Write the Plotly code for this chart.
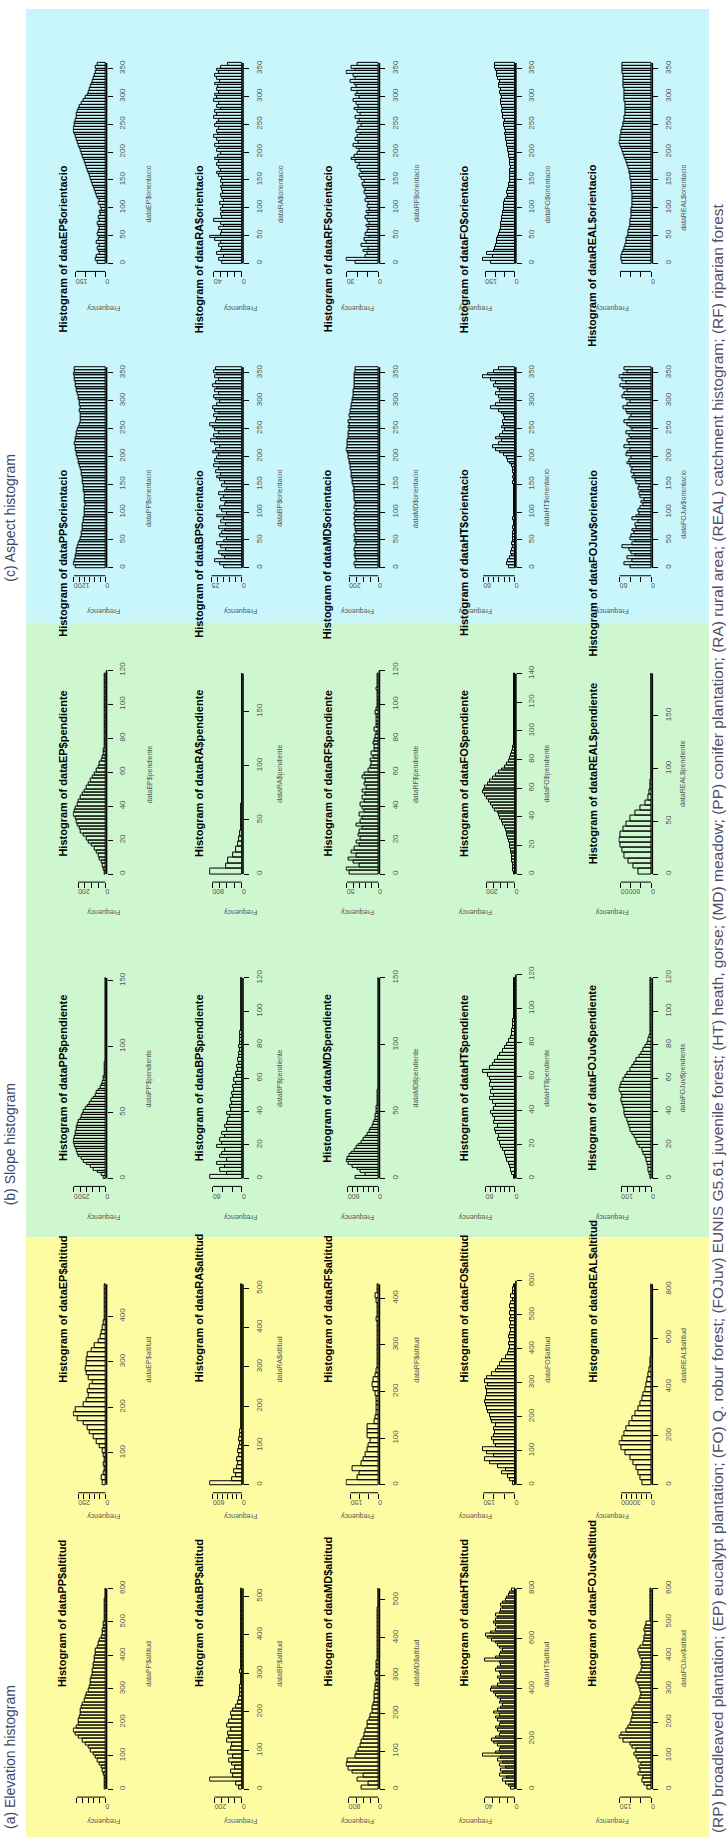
import plotly.graph_objects as go

# ---------------- data: histogram counts ----------------
# (a) Elevation (altitud)
ALT_PP = [5, 10, 15, 20, 40, 80, 120, 180, 250, 320,
          420, 500, 600, 700, 800, 950, 1050, 1100, 1000, 950,
          920, 900, 880, 850, 820, 780, 720, 680, 650, 600,
          560, 530, 500, 470, 450, 430, 420, 400, 380, 360,
          340, 320, 280, 230, 180, 130, 100, 80, 60, 50,
          30, 20, 10, 8, 6, 5, 4, 3, 2, 2]
ALT_EP = [25, 35, 15, 10, 12, 10, 15, 20,
          50, 80, 110, 140, 160, 200, 260, 290, 270, 200,
          170, 150, 160, 140, 120, 150, 170, 180, 175, 170,
          160, 130, 100, 60, 40, 30, 20, 15, 10, 8,
          5, 4, 3, 3, 2, 2]
ALT_RA = [650, 200, 120, 150, 100, 80, 90, 60, 70, 50,
          40, 50, 30, 25, 20, 20, 15, 15, 20, 15,
          15, 10, 10, 10, 15, 20, 15, 10, 10, 15,
          10, 10, 5, 5, 10, 5, 5, 5, 10, 10,
          5, 5, 10, 5, 5, 5, 10, 5, 5, 5, 5]
ALT_BP = [20, 40, 230, 60, 80, 50, 70, 90, 60, 100,
          80, 70, 110, 90, 100, 80, 110, 90, 70, 80,
          60, 40, 30, 20, 15, 10, 10, 8, 5, 5,
          10, 5, 5, 4, 4, 3, 3, 4, 3, 3,
          5, 3, 3, 4, 3, 3, 3, 4, 3, 3, 3, 3]
ALT_MD = [450, 250, 550, 400, 700, 800, 850, 820, 600, 580,
          520, 480, 450, 400, 380, 340, 300, 280, 240, 200,
          160, 150, 120, 110, 100, 90, 70, 60, 50, 40,
          60, 40, 50, 40, 30, 20, 15, 10, 10, 10,
          8, 5, 5, 5, 5, 10, 5, 5, 3, 3, 3, 2, 2]
ALT_RF = [170, 110, 100, 140, 90, 80, 70, 60, 50, 40,
          55, 60, 55, 20, 15, 10, 8, 10, 10, 15,
          25, 30, 25, 15, 10, 5, 5, 5, 5, 3,
          3, 3, 3, 3, 3, 8, 3, 3, 3, 10, 15, 5, 3]
ALT_HT = [5, 8, 12, 15, 10, 20, 15, 18, 12, 20,
          15, 22, 18, 42, 25, 20, 18, 22, 28, 30,
          25, 20, 18, 22, 25, 20, 18, 22, 25, 20,
          28, 22, 18, 15, 20, 18, 22, 25, 28, 32,
          30, 22, 18, 20, 22, 18, 20, 25, 22, 18,
          20, 40, 25, 20, 18, 15, 20, 22, 25, 30,
          35, 38, 32, 25, 22, 25, 28, 25, 22, 25,
          20, 18, 15, 18, 15, 12, 10, 8, 6, 4]
ALT_FO = [10, 20, 30, 60, 40, 80, 120, 140, 100, 130,
          150, 90, 100, 110, 100, 95, 100, 90, 110, 115,
          120, 125, 130, 135, 140, 135, 130, 130, 135, 125,
          140, 130, 110, 90, 80, 70, 60, 40, 30, 25,
          20, 25, 20, 25, 20, 15, 20, 15, 20, 15,
          20, 15, 20, 15, 10, 15, 10, 8, 5]
ALT_REAL = [8500, 10500, 12500, 14500, 17500, 21000, 26000, 30000, 31500, 29000,
            26500, 24500, 21500, 18500, 15500, 13000, 10500, 8500, 7250, 5750,
            4500, 3250, 2250, 1250, 550, 250, 90, 55, 30, 20,
            15, 10, 10, 10, 10, 5, 5, 5, 5, 5, 5]
ALT_FOJUV = [15, 30, 40, 35, 60, 50, 55, 45, 60, 70,
             80, 70, 90, 100, 130, 150, 140, 120, 110, 100,
             95, 90, 85, 90, 80, 70, 55, 50, 45, 50,
             55, 60, 70, 65, 55, 45, 40, 45, 40, 50,
             55, 60, 50, 35, 30, 30, 25, 30, 25, 20,
             5, 3, 3, 2, 2, 2, 2, 1, 1, 1]

# (b) Slope (pendiente)
PEN_PP = [100, 300, 600, 900, 1200, 1500, 1700, 1900, 2100, 2200,
          2300, 2400, 2450, 2500, 2500, 2450, 2400, 2350, 2300, 2250,
          2200, 2100, 2000, 1900, 1800, 1700, 1550, 1400, 1250, 1100,
          950, 800, 650, 500, 380, 280, 200, 140, 90, 60,
          40, 25, 15, 10, 8, 5, 4, 3, 3, 2,
          2, 2, 1, 1, 1, 1, 1, 1, 1, 1,
          1, 1, 1, 1, 1, 1, 1, 1, 1, 1,
          1, 1, 1, 1, 1, 1]
PEN_EP = [5, 10, 20, 30, 40, 50, 60, 80, 100, 120,
          140, 160, 180, 190, 200, 210, 220, 230, 225, 215,
          205, 195, 180, 165, 150, 140, 125, 110, 95, 80,
          65, 50, 40, 30, 20, 15, 10, 6, 4, 2,
          1, 1, 1, 1, 1, 1, 1, 1, 1, 1,
          1, 1, 1, 1, 1, 1, 1, 1, 1]
PEN_RA = [850, 420, 360, 220, 160, 110, 60, 35, 20, 12,
          8, 5, 4, 3, 2, 2, 2, 1, 1, 1,
          1, 1, 1, 1, 1, 1, 1, 1, 1, 1,
          1, 1, 1, 1, 1, 1, 1]
PEN_BP = [65, 30, 45, 35, 50, 30, 45, 40, 35, 50,
          40, 45, 35, 40, 30, 35, 30, 28, 25, 30,
          22, 25, 20, 22, 18, 20, 15, 18, 12, 15,
          10, 12, 8, 10, 6, 8, 5, 6, 4, 5,
          3, 4, 3, 3, 2, 2, 1, 1, 1, 1,
          1, 1, 1, 1, 1, 1, 1, 1, 1, 1]
PEN_MD = [450, 250, 350, 400, 500, 580, 620, 600, 560, 520,
          470, 420, 380, 330, 290, 250, 210, 180, 150, 120,
          100, 80, 60, 50, 40, 30, 25, 15, 10, 8,
          5, 4, 3, 2, 2, 1, 1, 1, 1, 1,
          1, 1, 1, 1, 1, 1, 1, 1, 1, 1,
          1, 1, 1, 1, 1, 1, 1, 1, 1, 1,
          1, 1, 1, 1, 1, 1, 1, 1, 1, 1,
          1, 1, 1, 1, 1]
PEN_RF = [45, 50, 30, 40, 48, 35, 42, 38, 30, 35,
          28, 32, 30, 25, 35, 28, 25, 30, 22, 25,
          28, 22, 25, 20, 25, 18, 22, 20, 25, 22,
          15, 12, 10, 12, 8, 10, 6, 5, 8, 6,
          4, 3, 5, 3, 2, 2, 3, 4, 2, 1,
          1, 1, 1, 1, 2, 1, 1, 1, 1]
PEN_HT = [2, 5, 8, 10, 12, 15, 18, 20, 25, 28,
          30, 35, 32, 38, 40, 35, 42, 40, 45, 48,
          42, 38, 45, 50, 42, 48, 45, 52, 48, 50,
          55, 65, 50, 45, 40, 35, 30, 25, 20, 15,
          12, 8, 6, 5, 4, 3, 3, 2, 2, 2,
          1, 1, 1, 1, 1, 1, 1, 1, 1]
PEN_FO = [5, 8, 10, 12, 15, 18, 20, 22, 25, 30,
          35, 40, 45, 50, 55, 60, 70, 80, 90, 100,
          110, 120, 135, 150, 165, 180, 195, 210, 220, 215,
          205, 190, 170, 150, 130, 110, 90, 70, 55, 40,
          30, 22, 15, 10, 8, 6, 4, 3, 2, 2,
          1, 1, 1, 1, 1, 1, 1, 1, 1, 1,
          1, 1, 1, 1, 1, 1, 1, 1, 1, 1]
PEN_REAL = [25000, 35000, 45000, 52000, 57000, 60000, 62000, 60000, 55000, 48000,
            40000, 30000, 20000, 12000, 6000, 2500, 800, 300, 150, 100,
            80, 60, 50, 40, 30, 20, 20, 10, 10, 10,
            10, 5, 5, 5, 5, 5, 5, 5]
PEN_FOJUV = [3, 5, 8, 10, 12, 15, 20, 25, 30, 38,
             45, 50, 55, 62, 68, 72, 75, 80, 85, 88,
             90, 92, 95, 98, 96, 100, 105, 102, 98, 92,
             85, 78, 70, 62, 55, 48, 40, 32, 25, 18,
             12, 8, 5, 3, 2, 1, 1, 1, 1, 1,
             1, 1, 1, 1, 1, 1, 1, 1, 1, 1]

# (c) Aspect (orientacio), bins of 5 degrees
ORI_PP = [1150, 1200, 1180, 1150, 1120, 1100, 1080, 1050, 1000, 980, 950, 920,
          900, 880, 860, 850, 840, 820, 800, 790, 780, 770, 760, 770,
          780, 790, 800, 810, 820, 830, 850, 870, 880, 900, 920, 950,
          980, 1000, 1030, 1060, 1080, 1100, 1120, 1150, 1160, 1150, 1120, 1100,
          1080, 1050, 1000, 980, 960, 950, 940, 950, 980, 960, 970, 990,
          1000, 1020, 1050, 1080, 1100, 1120, 1150, 1170, 1180, 1200, 1190, 1180]
ORI_EP = [40, 50, 45, 30, 35, 40, 30, 45, 35, 30, 40, 35,
          30, 35, 40, 30, 35, 25, 30, 20, 25, 35, 30, 40,
          45, 50, 55, 60, 65, 70, 75, 80, 85, 90, 95, 100,
          105, 110, 115, 120, 125, 130, 135, 140, 145, 150, 155, 160,
          160, 158, 155, 150, 148, 145, 140, 135, 130, 120, 110, 100,
          90, 85, 80, 75, 70, 65, 60, 55, 50, 45, 50, 40]
ORI_RA = [28, 32, 25, 35, 30, 28, 33, 30, 38, 45, 30, 28,
          32, 25, 30, 40, 28, 30, 26, 29, 27, 31, 25, 28,
          30, 26, 28, 29, 27, 30, 28, 32, 35, 30, 33, 36,
          32, 38, 34, 30, 36, 33, 38, 32, 35, 40, 34, 36,
          33, 38, 35, 32, 40, 35, 38, 30, 36, 33, 39, 35,
          38, 32, 36, 34, 38, 31, 35, 38, 33, 36, 30, 20]
ORI_BP = [15, 18, 22, 14, 16, 19, 13, 17, 20, 15, 12, 18,
          16, 14, 19, 13, 17, 15, 20, 12, 16, 18, 14, 13,
          17, 15, 19, 14, 12, 16, 14, 18, 20, 17, 21, 19,
          23, 18, 22, 20, 19, 24, 21, 18, 22, 25, 20, 23,
          19, 22, 24, 26, 21, 20, 23, 19, 22, 24, 20, 18,
          21, 23, 19, 22, 20, 24, 21, 19, 22, 20, 23, 21]
ORI_MD = [155, 160, 150, 158, 162, 155, 165, 158, 150, 160, 155, 162,
          150, 158, 155, 160, 152, 165, 158, 160, 150, 162, 155, 158,
          160, 165, 162, 168, 165, 170, 175, 178, 180, 182, 185, 188,
          190, 195, 198, 200, 205, 210, 215, 212, 210, 208, 205, 202,
          200, 198, 205, 195, 200, 190, 195, 188, 192, 185, 180, 178,
          175, 172, 170, 168, 165, 162, 160, 165, 162, 160, 158, 155]
ORI_RF = [22, 30, 12, 10, 14, 9, 16, 11, 13, 8, 12, 10,
          9, 11, 8, 10, 12, 9, 11, 8, 10, 9, 12, 10,
          11, 13, 12, 14, 15, 13, 16, 18, 15, 17, 20, 18,
          22, 25, 23, 20, 18, 21, 24, 19, 22, 20, 17, 21,
          19, 16, 20, 18, 22, 17, 20, 23, 19, 21, 24, 18,
          22, 20, 25, 21, 23, 26, 22, 24, 30, 22, 25, 20]
ORI_HT = [10, 15, 12, 8, 5, 6, 5, 4, 5, 3, 4, 3,
          3, 2, 3, 2, 2, 3, 2, 2, 2, 1, 2, 1,
          2, 1, 2, 1, 2, 2, 3, 2, 3, 2, 3, 4,
          5, 8, 12, 15, 20, 28, 35, 42, 30, 25, 35, 28,
          22, 18, 25, 20, 22, 18, 20, 25, 30, 45, 35, 28,
          25, 30, 35, 28, 32, 40, 35, 45, 60, 50, 40, 30]
ORI_FO = [120, 160, 110, 140, 105, 100, 95, 90, 88, 85, 80, 75,
          72, 70, 68, 65, 62, 60, 58, 55, 55, 52, 50, 40,
          35, 38, 32, 30, 28, 26, 25, 24, 22, 23, 20, 22,
          24, 25, 28, 30, 32, 35, 38, 40, 42, 45, 48, 45,
          50, 52, 55, 50, 58, 60, 62, 58, 65, 68, 72, 65,
          70, 75, 72, 78, 80, 75, 85, 90, 88, 95, 100, 98]
ORI_REAL = [14000, 14500, 14200, 13800, 13500, 13000, 12500, 12000, 11800, 11500, 11000, 10800,
            10500, 10200, 10000, 9800, 9600, 9500, 9400, 9300, 9200, 9100, 9000, 9000,
            9100, 9200, 9300, 9400, 9500, 9600, 9800, 10000, 10300, 10600, 11000, 11500,
            12000, 12500, 13000, 13500, 14000, 14500, 15000, 15200, 15000, 14800, 14500, 14200,
            14000, 13500, 13200, 13000, 12800, 12600, 12500, 12400, 12500, 12600, 12700, 12800,
            12900, 13000, 13100, 13200, 13300, 13400, 13500, 13600, 13700, 13800, 13900, 14000]
ORI_FOJUV = [40, 50, 35, 45, 30, 38, 42, 55, 35, 30, 40, 38,
             32, 35, 28, 30, 25, 35, 28, 22, 25, 20, 15, 18,
             12, 20, 22, 18, 25, 22, 28, 30, 35, 32, 38, 35,
             40, 45, 42, 38, 48, 45, 40, 50, 42, 45, 38, 42,
             48, 35, 40, 45, 50, 42, 38, 45, 48, 52, 45, 40,
             48, 55, 50, 45, 52, 58, 48, 55, 60, 52, 45, 50]

# histogram breaks: (counts, first break, bin width)
COUNTS = {
    ("a", "PP"): (ALT_PP, 0, 10), ("a", "EP"): (ALT_EP, 30, 10),
    ("a", "BP"): (ALT_BP, 0, 10), ("a", "RA"): (ALT_RA, 0, 10),
    ("a", "MD"): (ALT_MD, 0, 10), ("a", "RF"): (ALT_RF, 0, 10),
    ("a", "HT"): (ALT_HT, 0, 10), ("a", "FO"): (ALT_FO, 0, 10),
    ("a", "FOJuv"): (ALT_FOJUV, 0, 10), ("a", "REAL"): (ALT_REAL, 0, 20),
    ("b", "PP"): (PEN_PP, 0, 2), ("b", "EP"): (PEN_EP, 0, 2),
    ("b", "BP"): (PEN_BP, 0, 2), ("b", "RA"): (PEN_RA, 0, 5),
    ("b", "MD"): (PEN_MD, 0, 2), ("b", "RF"): (PEN_RF, 0, 2),
    ("b", "HT"): (PEN_HT, 0, 2), ("b", "FO"): (PEN_FO, 0, 2),
    ("b", "FOJuv"): (PEN_FOJUV, 0, 2), ("b", "REAL"): (PEN_REAL, 0, 5),
    ("c", "PP"): (ORI_PP, 0, 5), ("c", "EP"): (ORI_EP, 0, 5),
    ("c", "BP"): (ORI_BP, 0, 5), ("c", "RA"): (ORI_RA, 0, 5),
    ("c", "MD"): (ORI_MD, 0, 5), ("c", "RF"): (ORI_RF, 0, 5),
    ("c", "HT"): (ORI_HT, 0, 5), ("c", "FO"): (ORI_FO, 0, 5),
    ("c", "FOJuv"): (ORI_FOJUV, 0, 5), ("c", "REAL"): (ORI_REAL, 0, 5),
}
# value-axis ticks (first, last, step)
VTICKS = {
    ("a", "PP"): (0, 600, 100), ("a", "EP"): (100, 400, 100), ("a", "BP"): (0, 500, 100),
    ("a", "RA"): (0, 500, 100), ("a", "MD"): (0, 500, 100), ("a", "RF"): (0, 400, 100),
    ("a", "HT"): (0, 800, 200), ("a", "FO"): (0, 600, 100), ("a", "FOJuv"): (0, 600, 100),
    ("a", "REAL"): (0, 800, 200),
    ("b", "PP"): (0, 150, 50), ("b", "EP"): (0, 120, 20), ("b", "BP"): (0, 120, 20),
    ("b", "RA"): (0, 150, 50), ("b", "MD"): (0, 150, 50), ("b", "RF"): (0, 120, 20),
    ("b", "HT"): (0, 120, 20), ("b", "FO"): (0, 140, 20), ("b", "FOJuv"): (0, 120, 20),
    ("b", "REAL"): (0, 150, 50),
}
# frequency-axis ticks (step, top, top label shown)
FTICKS = {
    ("a", "PP"): (200, 1000, False), ("a", "EP"): (50, 250, True), ("a", "BP"): (50, 200, True),
    ("a", "RA"): (100, 600, True), ("a", "MD"): (200, 800, True), ("a", "RF"): (50, 150, True),
    ("a", "HT"): (10, 40, True), ("a", "FO"): (50, 150, True), ("a", "FOJuv"): (50, 150, True),
    ("a", "REAL"): (5000, 30000, True),
    ("b", "PP"): (500, 2500, True), ("b", "EP"): (50, 200, True), ("b", "BP"): (20, 60, True),
    ("b", "RA"): (200, 800, True), ("b", "MD"): (100, 600, True), ("b", "RF"): (10, 50, True),
    ("b", "HT"): (10, 60, True), ("b", "FO"): (50, 200, True), ("b", "FOJuv"): (20, 100, True),
    ("b", "REAL"): (20000, 60000, True),
    ("c", "PP"): (200, 1200, True), ("c", "EP"): (50, 150, True), ("c", "BP"): (5, 25, True),
    ("c", "RA"): (10, 40, True), ("c", "MD"): (50, 200, True), ("c", "RF"): (10, 30, True),
    ("c", "HT"): (10, 60, True), ("c", "FO"): (50, 150, True), ("c", "FOJuv"): (20, 60, True),
    ("c", "REAL"): (5000, 15000, False),
}
VAR = {"a": "altitud", "b": "pendiente", "c": "orientacio"}
UPPER = ["EP", "RA", "RF", "FO", "REAL"]
LOWER = ["PP", "BP", "MD", "HT", "FOJuv"]
PANEL_LABEL = {"a": "(a) Elevation histogram", "b": "(b) Slope histogram", "c": "(c) Aspect histogram"}
CAPTION = ("(RP) broadleaved plantation; (EP) eucalypt plantation; (FO) Q. robur forest; "
           "(FOJuv) EUNIS G5.61 juvenile forest; (HT) heath, gorse; (MD) meadow; "
           "(PP) conifer plantation; (RA) rural area; (REAL) catchment histogram; (RF) riparian forest")

# ---------------- layout geometry (pixels) ----------------
W, H = 728, 1837
FONT = "Liberation Sans, Arial, sans-serif"
PANEL_TOP = {"c": 14, "b": 626, "a": 1238}
PANEL_BG = {"c": (5, 620, "#c9f6fa"), "b": (620, 1236, "#cff7cf"), "a": (1236, 1837, "#fdfca3")}
LABEL_BOTTOM = {"c": 581, "b": 1206, "a": 1831}


def fx(px):
    return px / W


def fy(py):
    return 1 - py / H


fig = go.Figure()
lay = {}
shapes = []
ann = []

for p, (y0, y1, col) in PANEL_BG.items():
    shapes.append(dict(type="rect", xref="paper", yref="paper", x0=fx(26), x1=fx(712),
                       y0=fy(y1), y1=fy(y0), fillcolor=col, line=dict(width=0), layer="below"))
    ann.append(dict(x=fx(10), y=fy(LABEL_BOTTOM[p]), xref="paper", yref="paper",
                    text=PANEL_LABEL[p], textangle=-90, showarrow=False,
                    xanchor="center", yanchor="bottom",
                    font=dict(family=FONT, size=14, color="#3c4868")))

ann.append(dict(x=fx(720), y=fy(1835), xref="paper", yref="paper", text=CAPTION,
                textangle=-90, showarrow=False, xanchor="center", yanchor="bottom",
                font=dict(family=FONT, size=15.5, color="#505064")))

i = 0
for p in ["c", "b", "a"]:
    T = PANEL_TOP[p]
    for r, names in enumerate([UPPER, LOWER]):
        top = T + (37 if r == 0 else 342)
        bot = top + 217
        for k, name in enumerate(names):
            i += 1
            counts, start, step = COUNTS[(p, name)]
            xr = 107 + 137 * k
            xl = xr - 34
            xn = "x" if i == 1 else f"x{i}"
            yn = "y" if i == 1 else f"y{i}"
            xk = "xaxis" if i == 1 else f"xaxis{i}"
            yk = "yaxis" if i == 1 else f"yaxis{i}"
            centers = [start + step * (j + 0.5) for j in range(len(counts))]
            fig.add_trace(go.Bar(x=counts, y=centers, orientation="h", width=step,
                                 marker=dict(color="rgba(0,0,0,0)", line=dict(color="black", width=1)),
                                 xaxis=xn, yaxis=yn, showlegend=False, hoverinfo="skip"))
            lo, hi = start, start + step * len(counts)
            pad = 0.04 * (hi - lo)
            fmax = max(counts)
            v0, v1, vs = VTICKS.get((p, name), (0, 350, 50))
            vt = list(range(v0, v1 + 1, vs))
            fs, ftop, showtop = FTICKS[(p, name)]
            ft = list(range(0, ftop + 1, fs))
            flab = ["0"] + [""] * (len(ft) - 2) + [str(ftop) if showtop else ""]
            lay[xk] = dict(domain=[fx(xl), fx(xr)], range=[fmax * 1.04, -fmax * 0.04], anchor=yn,
                           showgrid=False, zeroline=False, showline=False, ticks="outside",
                           ticklen=5, tickwidth=1, tickcolor="black", tickvals=ft, ticktext=flab,
                           tickangle=180, tickfont=dict(family=FONT, size=7, color="#555"))
            lay[yk] = dict(domain=[fy(bot), fy(top)], range=[lo - pad, hi + pad], anchor=xn,
                           side="right", showgrid=False, zeroline=False, showline=False,
                           ticks="outside", ticklen=5, tickwidth=1, tickcolor="black",
                           tickvals=vt, ticktext=[str(v) for v in vt], tickangle=-90,
                           ticklabelstandoff=3,
                           tickfont=dict(family=FONT, size=8, color="#555"))
            shapes.append(dict(type="line", xref=f"{xn} domain", yref=yn, x0=1, x1=1,
                               y0=min(lo, v0), y1=max(hi, v1), line=dict(color="black", width=1.6)))
            shapes.append(dict(type="line", xref=xn, yref=f"{yn} domain", x0=0, x1=ftop,
                               y0=0, y1=0, line=dict(color="black", width=1)))
            cy = (top + bot) / 2
            ann.append(dict(x=fx(xr - 52), y=fy(cy), xref="paper", yref="paper",
                            text=f"<b>Histogram of data{name}${VAR[p]}</b>", textangle=-90,
                            showarrow=False, font=dict(family=FONT, size=11, color="black")))
            ann.append(dict(x=fx(xr + 37), y=fy(cy), xref="paper", yref="paper",
                            text=f"data{name}${VAR[p]}", textangle=-90, showarrow=False,
                            font=dict(family=FONT, size=7, color="#555")))
            ann.append(dict(x=fx(xr - 22), y=fy(bot + 30), xref="paper", yref="paper",
                            text="Frequency", textangle=180, showarrow=False,
                            font=dict(family=FONT, size=7, color="#555")))

fig.update_layout(width=W, height=H, margin=dict(l=0, r=0, t=0, b=0),
                  paper_bgcolor="white", plot_bgcolor="rgba(0,0,0,0)",
                  bargap=0, shapes=shapes, annotations=ann,
                  font=dict(family=FONT), **lay)
fig.write_html("out.html")
